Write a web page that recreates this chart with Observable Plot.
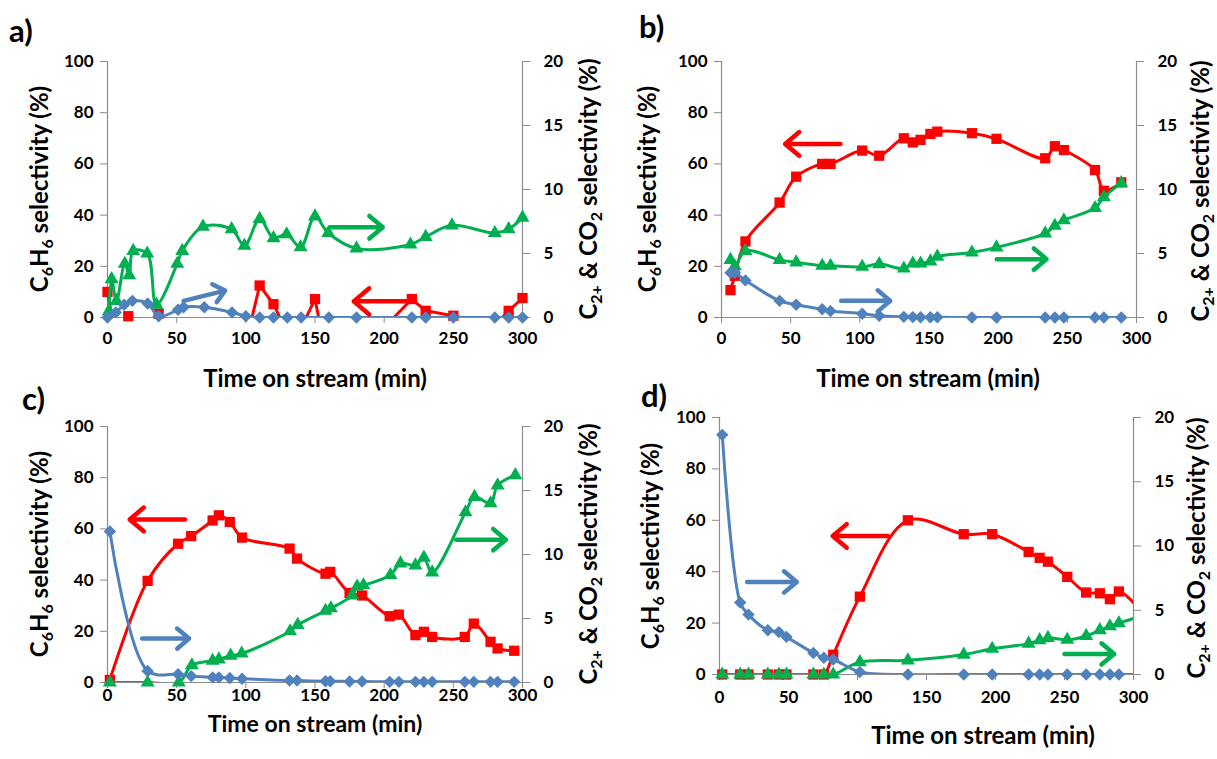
<!DOCTYPE html>
<html><head><meta charset="utf-8">
<script src="https://cdn.jsdelivr.net/npm/d3@7"></script>
<script src="https://cdn.jsdelivr.net/npm/@observablehq/plot@0.6"></script>
<style>
body{margin:0;background:#fff;}
#wrap{position:relative;width:1217px;height:759px;overflow:hidden;background:#fff;}
#wrap svg{position:absolute;}
</style></head><body><div id="wrap"></div>
<script>
// ---------- shared ticks ----------
const xTicks = [0, 50, 100, 150, 200, 250, 300];
const leftTicks = [0, 20, 40, 60, 80, 100];
const rightTicks = [0, 5, 10, 15, 20];

// ---------- panel a ----------
const aRedT = [0, 6, 15, 18, 29, 37, 51, 55, 70, 90, 100, 110, 120, 130, 140, 150, 160, 180, 220, 230, 250, 280, 290, 300];
const aRedV = [10, -8, 0.5, -6, -6, 1.5, -5, -6, -6, -6, -10, 12.5, 5.2, -6, -4, 7.2, -20, -15, 7.2, 2.6, 0.7, -3, 2.6, 7.6];
const aGreenT = [1, 3, 6.5, 12.5, 15.7, 18.6, 28.7, 35.4, 50.4, 54, 69, 89.7, 99, 110, 120, 129.5, 139.6, 150, 159.6, 180, 219, 230, 249, 280, 290, 300];
const aGreenV = [0.5, 3.0, 1.3, 4.2, 3.3, 5.2, 5.0, 1.0, 4.2, 5.2, 7.1, 6.9, 5.6, 7.7, 6.2, 6.5, 5.5, 7.9, 6.6, 5.4, 5.7, 6.3, 7.2, 6.6, 6.9, 7.8];
const aBlueT = [0, 6, 12, 18, 29, 37, 51, 55, 70, 90, 100, 110, 120, 130, 140, 160, 180, 220, 230, 250, 280, 290, 300];
const aBlueV = [0, 0.4, 1.0, 1.3, 1.1, 0.1, 0.6, 0.8, 0.8, 0.4, 0.1, 0, 0, 0, 0, 0, 0, 0, 0, 0, 0, 0, 0];
const aArrows = [
  {x1: 222, y1: 6.3, x2: 178, y2: 6.3, color: "red", axis: "left"},
  {x1: 161, y1: 7.05, x2: 199, y2: 7.05, color: "green", axis: "right"},
  {x1: 55, y1: 1.3, x2: 85, y2: 2.1, color: "blue", axis: "right"}
];

// ---------- panel b ----------
const bT = [6.5, 9.6, 17.3, 42, 54, 72.8, 78.8, 101.7, 114, 131.8, 138.3, 143.9, 151, 156, 181, 198.8, 234, 241, 247.5, 270, 276.4, 289];
const bRedV = [10.7, 16.3, 29.7, 44.9, 55, 60, 60, 65.2, 63.2, 70, 68.4, 69.4, 71.7, 72.6, 72, 69.8, 62.2, 66.9, 65.4, 57.6, 49.5, 52.8];
const bGreenV = [4.5, 4.0, 5.2, 4.5, 4.3, 4.04, 4.04, 3.96, 4.17, 3.83, 4.22, 4.22, 4.38, 4.75, 5.08, 5.48, 6.57, 7.17, 7.6, 8.55, 9.4, 10.5];
const bBlueV = [3.5, 3.5, 2.9, 1.3, 1.0, 0.65, 0.5, 0.3, 0.13, 0.05, 0.03, 0.02, 0.02, 0.02, 0, 0, 0, 0, 0, 0, 0, 0];
const bArrows = [
  {x1: 86, y1: 67.8, x2: 46, y2: 67.8, color: "red", axis: "left"},
  {x1: 199, y1: 4.56, x2: 235, y2: 4.56, color: "green", axis: "right"},
  {x1: 86.5, y1: 1.3, x2: 122, y2: 1.3, color: "blue", axis: "right"}
];

// ---------- panel c ----------
const cT = [1.7, 29, 51, 60.5, 76, 80.5, 88.4, 97.3, 131.6, 137, 157.6, 161, 175, 184, 204, 210.6, 222.6, 228.7, 234.7, 258.3, 264.8, 276.9, 282, 294];
const cRedV = [1, 39.7, 54.2, 57.2, 63.3, 65.3, 62.7, 56.6, 52.3, 48.4, 42.5, 43.2, 35, 34, 25.9, 26.5, 18.5, 19.8, 17.8, 17.8, 23, 15.9, 13.3, 12.4];
const cBlueV = [11.8, 0.9, 0.65, 0.5, 0.4, 0.4, 0.35, 0.3, 0.15, 0.15, 0.1, 0.1, 0.08, 0.08, 0.05, 0.05, 0.05, 0.05, 0.05, 0.05, 0.05, 0.05, 0.05, 0.05];
const cGreenT = [1.7, 29, 51.5, 61, 76, 80.5, 89, 97, 132, 137.5, 157.6, 161.5, 176.8, 180.5, 185, 204.5, 211.8, 222.6, 228.7, 234.7, 258.8, 265.3, 276.9, 282, 294.8];
const cGreenV = [0, 0, 0, 1.35, 1.7, 1.8, 2.1, 2.26, 4.0, 4.5, 5.6, 5.8, 6.8, 7.5, 7.6, 8.4, 9.3, 9.15, 9.75, 8.6, 13.3, 14.5, 14.0, 15.4, 16.2];
const cArrows = [
  {x1: 56, y1: 63.7, x2: 16, y2: 63.7, color: "red", axis: "left"},
  {x1: 25, y1: 3.43, x2: 59, y2: 3.43, color: "blue", axis: "right"},
  {x1: 252, y1: 11.16, x2: 288, y2: 11.16, color: "green", axis: "right"}
];

// ---------- panel d ----------
const dT = [2, 15, 21, 35, 43, 48.5, 68, 75.6, 82.4, 101.7, 136.5, 177, 197.6, 224, 232, 238, 252, 265.7, 275.6, 282.9, 289.4, 310];
const dRedV = [0, 0, 0, 0, 0, 0, 0, 0, 7.7, 30.3, 60, 54.6, 54.6, 47.7, 45.4, 43.9, 38, 31.9, 31.6, 29.3, 32.3, 22];
const dGreenV = [0, 0, 0, 0, 0, 0, 0, 0, 0, 0.96, 1.1, 1.55, 2.0, 2.4, 2.67, 2.85, 2.7, 3.0, 3.45, 3.75, 4.0, 4.7];
const dBlueV = [18.65, 5.6, 4.66, 3.45, 3.3, 2.93, 1.68, 1.3, 1.17, 0.2, 0, 0, 0, 0, 0, 0, 0, 0, 0, 0, 0, 0];
const dArrows = [
  {x1: 122, y1: 53.9, x2: 82, y2: 53.9, color: "red", axis: "left"},
  {x1: 20, y1: 7.2, x2: 56, y2: 7.2, color: "blue", axis: "right"},
  {x1: 250, y1: 1.6, x2: 286, y2: 1.6, color: "green", axis: "right"}
];

// ---------- styling ----------
const COLORS = {red: "#FF0000", green: "#00B050", blue: "#4F81BD"};
const AX = "#8C8C8C";
const FONT = "Lato, 'Open Sans', sans-serif";
const K = 5; // right axis (0-20) mapped onto left axis (0-100)

const rows = (T, V) => T.map((t, i) => ({t, v: V[i]}));
const inside = d => d.v >= 0 && d.t <= 300;

function addText(svg, x, y, parts, size, rotate, anchor = "middle") {
  const t = d3.select(svg).append("text")
    .attr("font-family", FONT).attr("font-weight", "bold").attr("font-size", size)
    .attr("fill", "#000").attr("text-anchor", anchor)
    .attr("transform", rotate ? `translate(${x},${y}) rotate(-90)` : `translate(${x},${y})`);
  let shifted = false;
  for (const p of parts) {
    if (typeof p === "string") {
      const s = t.append("tspan").text(p);
      if (shifted) { s.attr("dy", -size * 0.22); shifted = false; }
    } else {
      t.append("tspan").attr("font-size", Math.round(size * 0.66)).attr("dy", size * 0.22).text(p.sub);
      shifted = true;
    }
  }
}

function panel(cfg) {
  const red = rows(cfg.redT, cfg.redV);
  const green = rows(cfg.greenT, cfg.greenV);
  const blue = rows(cfg.blueT, cfg.blueV);
  const ry = d => d.v * K;
  const marks = [
    Plot.ruleY([0], {stroke: AX, strokeWidth: 1.2}),
    Plot.ruleX([0], {stroke: AX, strokeWidth: 1.2}),
    Plot.ruleX([300], {stroke: AX, strokeWidth: 1.2}),
    Plot.axisX({ticks: xTicks, tickSize: 6, tickFormat: () => "", stroke: AX, label: null}),
    Plot.text(xTicks, {x: d => d, frameAnchor: "bottom", dy: cfg.xdy, text: d => String(d), fontSize: 17, fontWeight: "bold", fill: "#000"}),
    Plot.axisY({anchor: "left", ticks: leftTicks, tickSize: 7, tickPadding: 7, stroke: AX, fill: "#000", label: null, fontSize: 17, fontWeight: "bold"}),
    Plot.axisY({anchor: "right", ticks: rightTicks.map(d => d * K), tickFormat: d => String(d / K), tickSize: 7, tickPadding: 14, stroke: AX, fill: "#000", label: null, fontSize: 17, fontWeight: "bold"}),
    Plot.line(red, {x: "t", y: "v", stroke: COLORS.red, strokeWidth: 3, curve: cfg.redCurve || "catmull-rom", clip: true}),
    Plot.dot(red.filter(inside), {x: "t", y: "v", symbol: "square", r: 5.8, fill: COLORS.red}),
    Plot.line(green, {x: "t", y: ry, stroke: COLORS.green, strokeWidth: 3, curve: "catmull-rom", clip: true}),
    Plot.dot(green.filter(inside), {x: "t", y: ry, symbol: "triangle", r: 5.2, fill: COLORS.green}),
    Plot.line(blue, {x: "t", y: ry, stroke: COLORS.blue, strokeWidth: 3, curve: "catmull-rom", clip: true}),
    Plot.dot(blue.filter(inside), {x: "t", y: ry, symbol: "diamond2", r: 5.6, fill: COLORS.blue}),
    ...cfg.arrows.map(a => Plot.arrow([a], {
      x1: "x1", x2: "x2",
      y1: d => d.axis === "right" ? d.y1 * K : d.y1,
      y2: d => d.axis === "right" ? d.y2 * K : d.y2,
      stroke: COLORS[a.color], strokeWidth: 4.5, headLength: 17, headAngle: 80
    }))
  ];
  const svg = Plot.plot({
    width: cfg.w, height: cfg.h,
    marginLeft: cfg.ml, marginRight: cfg.mr, marginTop: cfg.mt, marginBottom: cfg.mb,
    x: {domain: [0, 300]},
    y: {domain: [0, 100]},
    style: {fontFamily: FONT, fontSize: "17px", fontWeight: "bold", color: "#000", background: "transparent", overflow: "visible"},
    marks
  });
  svg.style.left = cfg.left + "px";
  svg.style.top = cfg.top + "px";
  const L = cfg.left, T = cfg.top;
  addText(svg, cfg.tag[0] - L, cfg.tag[1] - T, [cfg.tagText], 31, false, "start");
  addText(svg, cfg.lt[0] - L, cfg.lt[1] - T, ["C", {sub: "6"}, "H", {sub: "6"}, " selectivity (%)"], 24, true);
  addText(svg, cfg.rt[0] - L, cfg.rt[1] - T, ["C", {sub: "2+"}, " & CO", {sub: "2"}, " selectivity (%)"], 24, true);
  addText(svg, cfg.xt[0] - L, cfg.xt[1] - T, ["Time on stream (min)"], cfg.xts || 24, false);
  document.getElementById("wrap").appendChild(svg);
}

panel({left: 0, top: 0, w: 608, h: 390, ml: 107, mr: 86, mt: 61, mb: 73, xdy: 26,
  redT: aRedT, redV: aRedV, redCurve: "linear", greenT: aGreenT, greenV: aGreenV, blueT: aBlueT, blueV: aBlueV, arrows: aArrows,
  tag: [9, 42], tagText: "a)", lt: [48, 189], rt: [597, 189], xt: [315, 387]});

panel({left: 608, top: 0, w: 609, h: 390, ml: 113, mr: 81, mt: 61, mb: 73, xdy: 26,
  redT: bT, redV: bRedV, greenT: bT, greenV: bGreenV, blueT: bT, blueV: bBlueV, arrows: bArrows,
  tag: [639, 38], tagText: "b)", lt: [656, 189], rt: [1209, 191], xt: [928, 387]});

panel({left: 0, top: 390, w: 608, h: 369, ml: 107, mr: 86, mt: 36, mb: 77, xdy: 18, xts: 23,
  redT: cT, redV: cRedV, greenT: cGreenT, greenV: cGreenV, blueT: cT, blueV: cBlueV, arrows: cArrows,
  tag: [22, 410], tagText: "c)", lt: [48, 554], rt: [597, 554], xt: [315, 732]});

panel({left: 608, top: 390, w: 609, h: 369, ml: 111, mr: 84, mt: 27, mb: 85, xdy: 28,
  redT: dT, redV: dRedV, greenT: dT, greenV: dGreenV, blueT: dT, blueV: dBlueV, arrows: dArrows,
  tag: [641, 407], tagText: "d)", lt: [659, 546], rt: [1205, 548], xt: [983, 744]});
</script></body></html>
